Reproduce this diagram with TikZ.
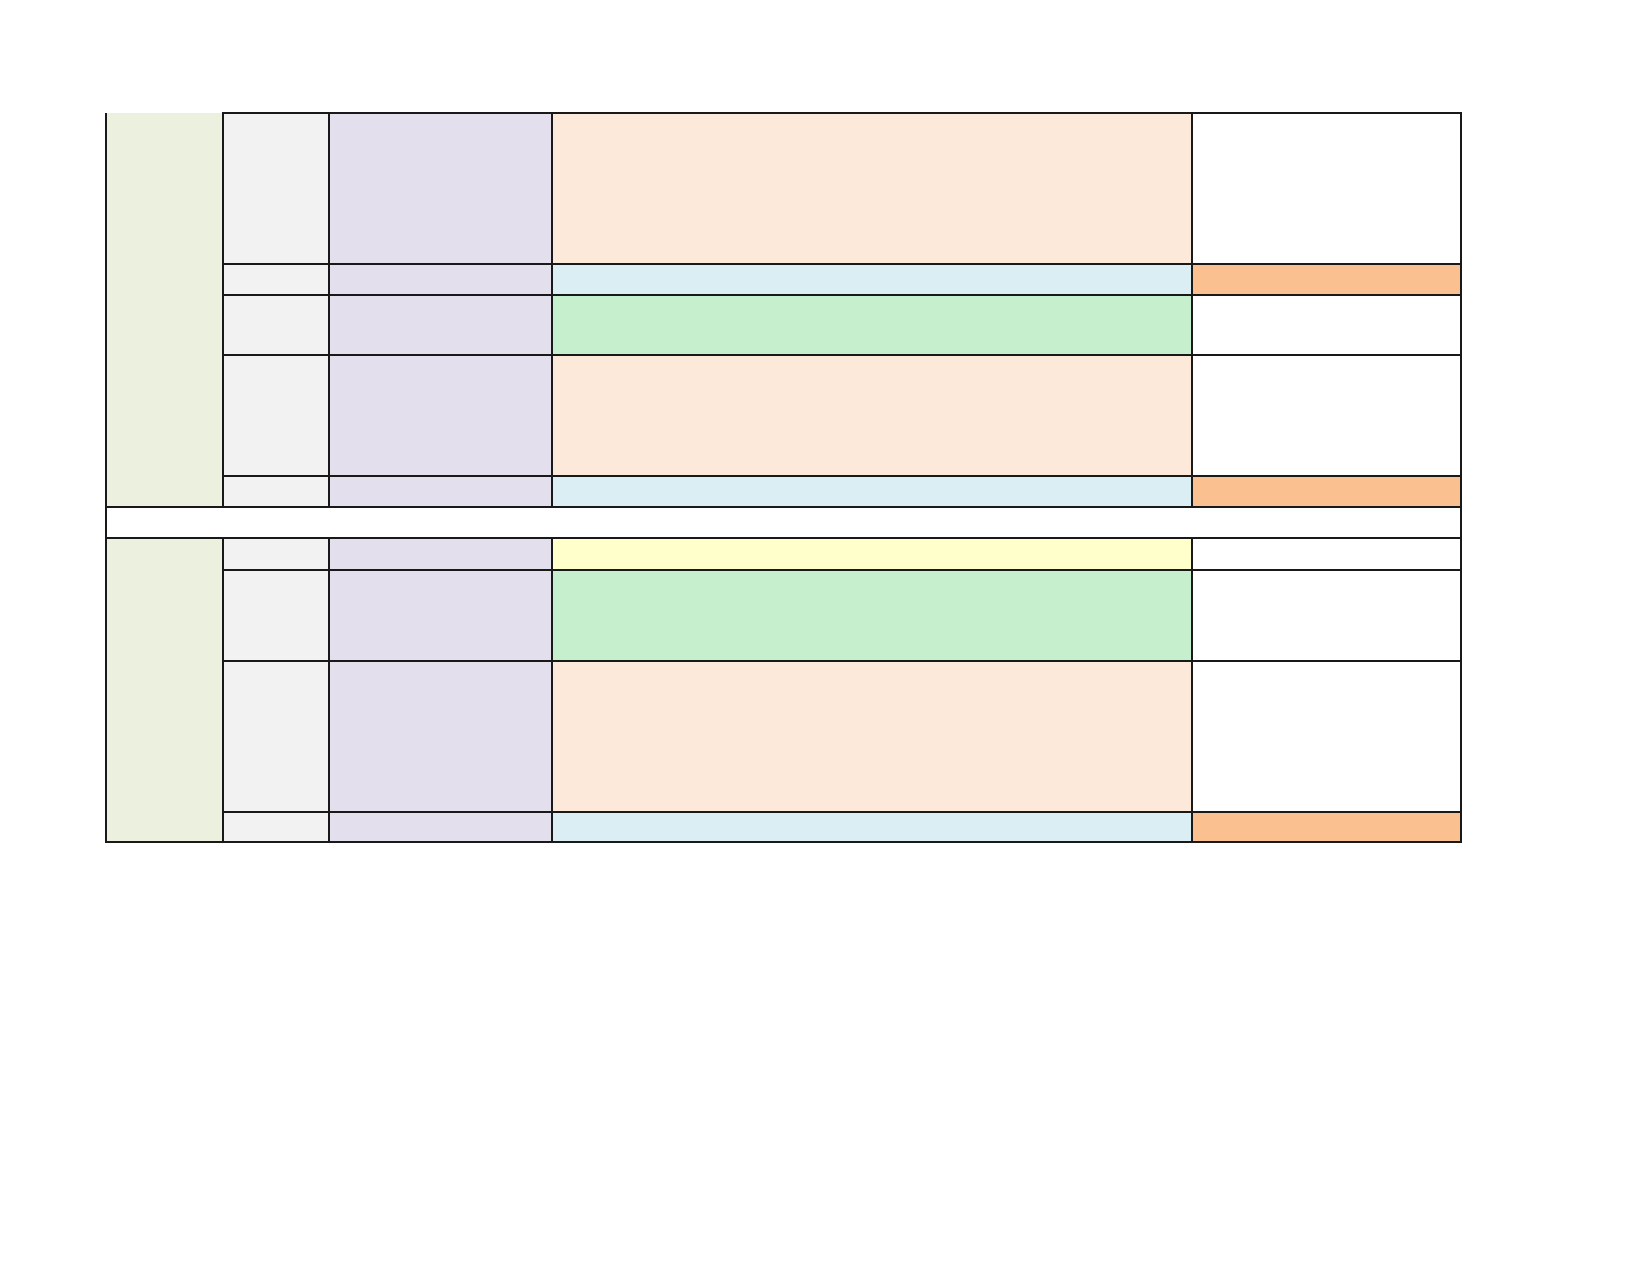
\documentclass[tikz,border=0pt]{standalone}
\usepackage{tikz}
\usetikzlibrary{positioning}
\definecolor{sectgreen}{HTML}{EBF1DE}
\definecolor{stepgrey}{HTML}{F2F2F2}
\definecolor{lavender}{HTML}{E4DFEC}
\definecolor{peach}{HTML}{FCE9DA}
\definecolor{paleblue}{HTML}{DAEEF3}
\definecolor{tanorange}{HTML}{FAC090}
\definecolor{mint}{HTML}{C6EFCE}
\definecolor{lemon}{HTML}{FFFFCC}
\tikzset{
  rule/.style={draw=black!90, line width=2pt},
  cell/.style={rule, rectangle, inner sep=0pt, outer sep=0pt, anchor=north west},
}

\begin{document}
\begin{tikzpicture}[x=1pt, y=-1pt]
    \useasboundingbox (0,0) rectangle (1650,1275);

    % section column, upper block (open at the top)
    \node[rectangle, fill=sectgreen, inner sep=0pt, anchor=north west,
          minimum width=117pt, minimum height=394pt] (sect1) at (106,113) {};
    \draw[rule] (sect1.north west) -- (sect1.south west) -- (sect1.south east);

    % blank row between the blocks
    \node[cell, fill=white, minimum width=1355pt, minimum height=31pt] (gap) at (106,507) {};

    % section column, lower block
    \node[cell, fill=sectgreen, minimum width=117pt, minimum height=304pt] (sect2) at (106,538) {};

    % rows: top / height / main colour / side colour
    \foreach \y/\h/\cmain/\cside [count=\i] in {
        113/151/peach/white, 264/31/paleblue/tanorange, 295/60/mint/white,
        355/121/peach/white, 476/31/paleblue/tanorange,
        538/32/lemon/white, 570/91/mint/white, 661/151/peach/white,
        812/30/paleblue/tanorange}
    {
        \node[cell, fill=stepgrey, minimum width=106pt, minimum height=\h pt] (step\i) at (223,\y) {};
        \node[cell, fill=lavender, minimum width=223pt, minimum height=\h pt] (task\i) at (329,\y) {};
        \node[cell, fill=\cmain, minimum width=640pt, minimum height=\h pt] (main\i) at (552,\y) {};
        \node[cell, fill=\cside, minimum width=269pt, minimum height=\h pt] (side\i) at (1192,\y) {};
    }
\end{tikzpicture}
\end{document}
